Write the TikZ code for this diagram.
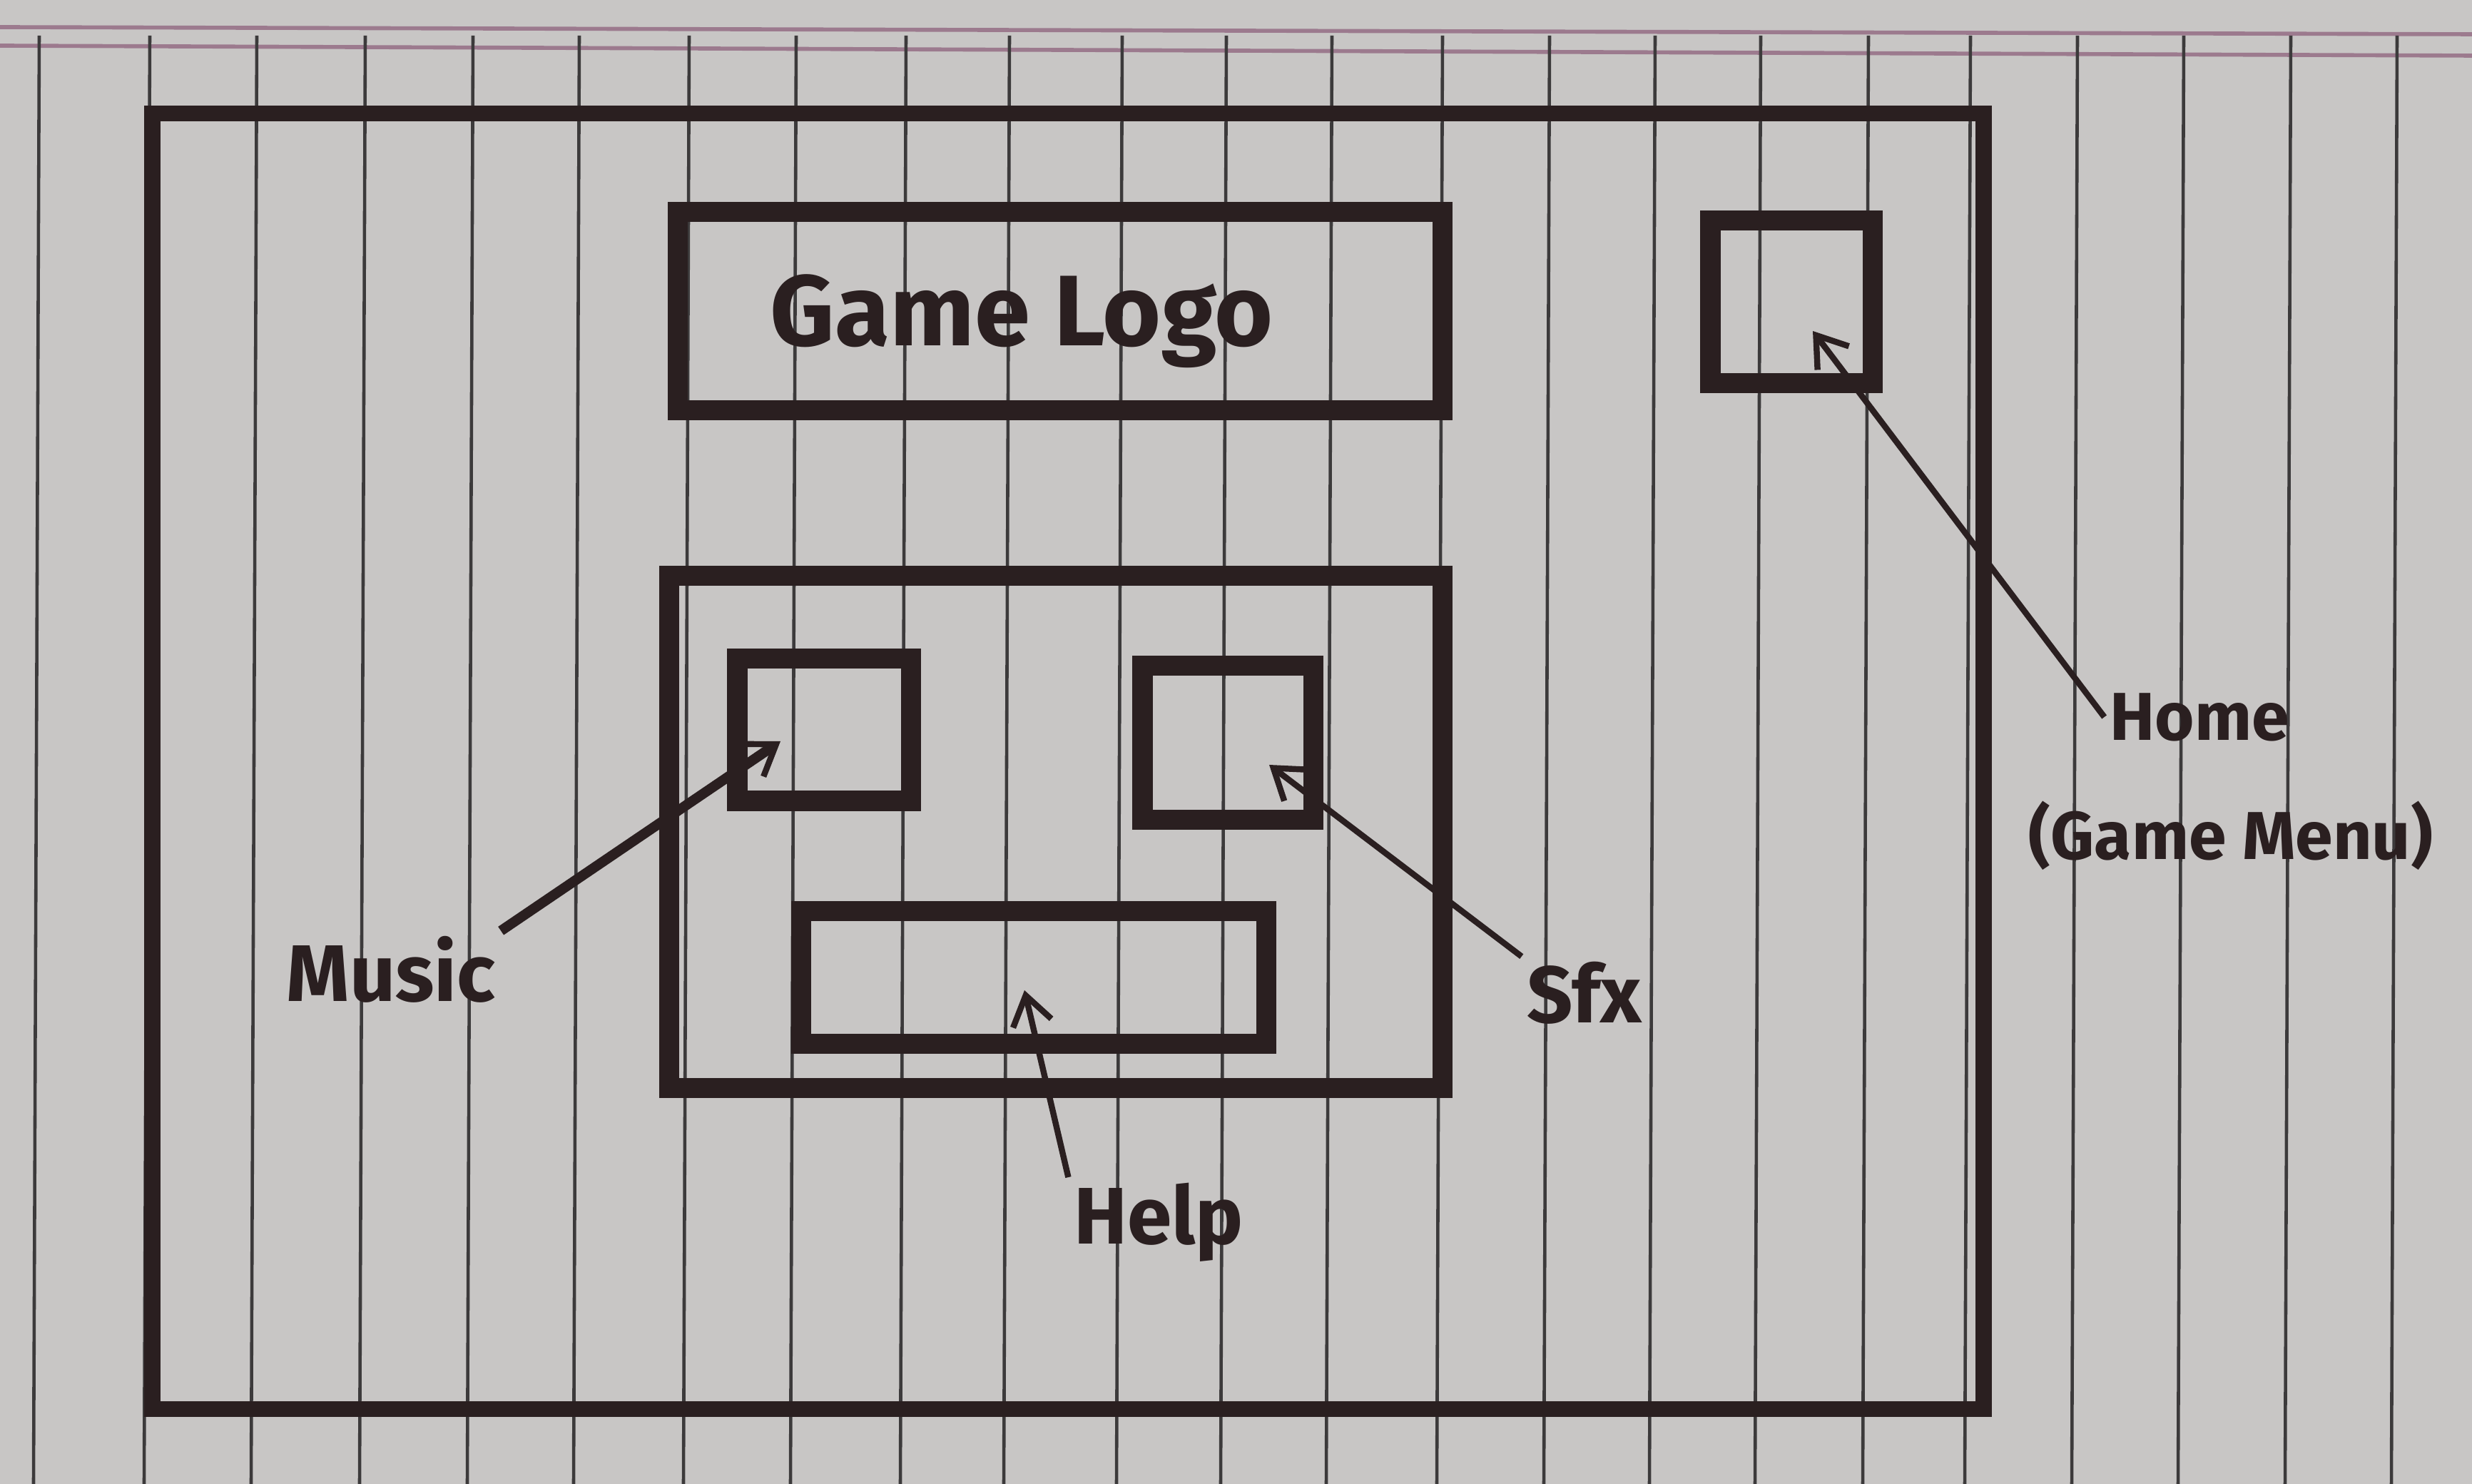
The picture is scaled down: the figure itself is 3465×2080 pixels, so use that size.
\documentclass[tikz,border=0pt]{standalone}
\usepackage{fontspec}
\setmainfont{Fira Sans}
\usetikzlibrary{arrows.meta}
\definecolor{paper}{HTML}{C8C6C5}
\definecolor{ink}{HTML}{2A1F20}
\definecolor{ruling}{HTML}{3C3A3B}
\definecolor{margin}{HTML}{9C7A8E}
\begin{document}
\begin{tikzpicture}[x=0.01cm,y=-0.01cm,
  box/.style={draw=ink, line width=8pt, rectangle, inner sep=0pt},
  frame/.style={draw=ink, line width=6.5pt, rectangle, inner sep=0pt},
  lbl/.style={text=ink, inner sep=2pt, font=\fontsize{32}{38}\selectfont\bfseries},
  sidelbl/.style={text=ink, inner sep=2pt, font=\fontsize{27}{32}\selectfont\bfseries},
  logotext/.style={text=ink, font=\fontsize{40}{46}\selectfont\bfseries},
  pointer/.style={draw=ink, line width=2.4pt, -{Straight Barb[length=0.4cm,width=0.55cm,line width=2.4pt]}}]
\useasboundingbox (0,0) rectangle (3465,2080);
\fill[paper] (0,0) rectangle (3465,2080);
% ruled paper
\draw[margin, line width=1.6pt] (0,38) -- (3465,48);
\draw[margin, line width=1.6pt] (0,64) -- (3465,78);
\foreach \x in {55,210,360,512,663,812,966,1116,1270,1415,1573,1719,1867,2022,2172,2320,2468,2619,2762,2912,3061,3211,3360}
  \draw[ruling, line width=1.3pt] (\x,50) -- (\x-8,2080);
% outer frame
\node[frame, minimum width=25.65cm, minimum height=18.15cm] (screen) at (1497,1067) {};
% logo
\node[box, minimum width=10.72cm, minimum height=2.77cm] (logo) at (1486,436) {};
\node[logotext] (logotxt) at (1432,450) {Game Logo};
% home button
\node[box, minimum width=2.27cm, minimum height=2.28cm] (homebtn) at (2511,423) {};
% panel
\node[box, minimum width=10.83cm, minimum height=7.18cm] (panel) at (1480,1166) {};
\node[box, minimum width=2.43cm, minimum height=1.99cm] (musicbtn) at (1155,1023) {};
\node[box, minimum width=2.39cm, minimum height=2.16cm] (sfxbtn) at (1721,1041) {};
\node[box, minimum width=6.52cm, minimum height=1.86cm] (helpbtn) at (1449,1370) {};
% labels
\node[sidelbl] (home) at (3083,1005) {Home};
\node[sidelbl] (gamemenu) at (3127,1171) {(Game Menu)};
\node[lbl] (music) at (548,1359) {Music};
\node[lbl] (sfx) at (2221,1392) {Sfx};
\node[lbl] (help) at (1624,1713) {Help};
% pointer targets
\coordinate (homeTip) at (2541,464);
\coordinate (musicTip) at (1094,1039);
\coordinate (sfxTip) at (1779,1072);
\coordinate (helpTip) at (1436,1388);
\draw[pointer] (home.west) -- (homeTip);
\draw[pointer, line width=4pt] (music.north east) -- (musicTip);
\draw[pointer] (sfx.north west) -- (sfxTip);
\draw[pointer] (help.north west) -- (helpTip);
\end{tikzpicture}
\end{document}
